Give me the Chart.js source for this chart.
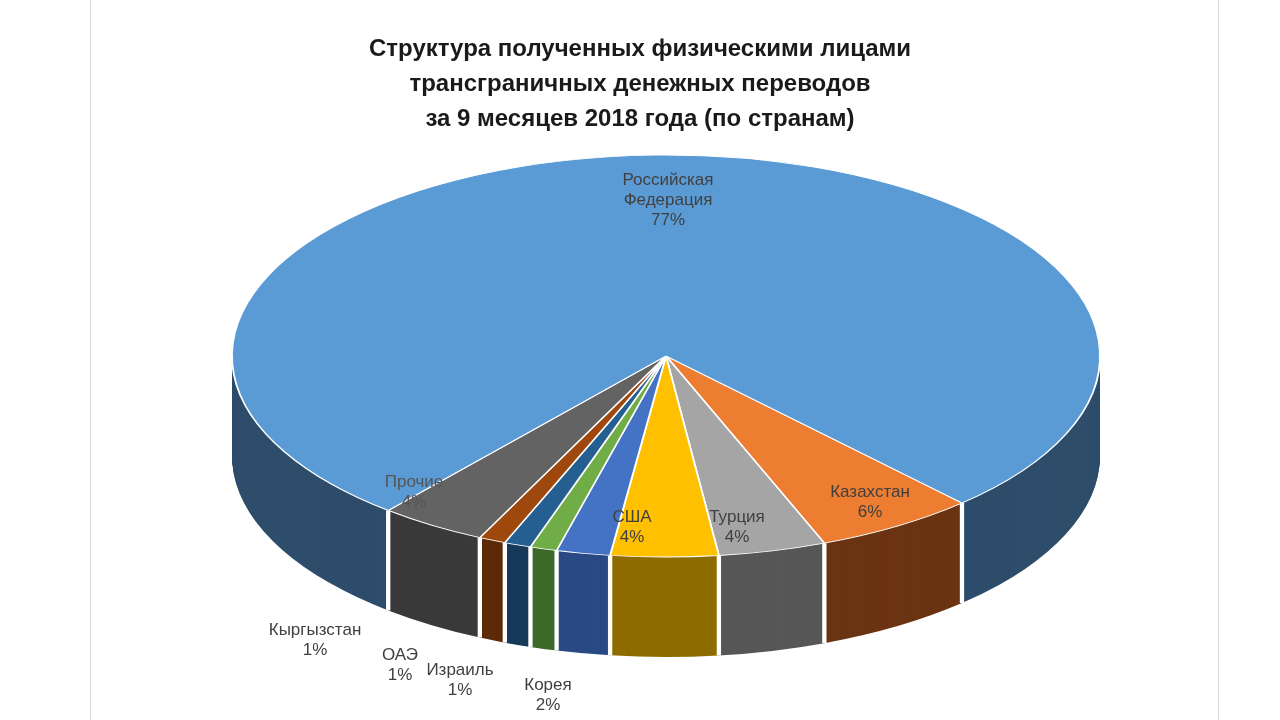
<!DOCTYPE html>
<html>
<head>
<meta charset="utf-8">
<script src="https://cdn.jsdelivr.net/npm/chart.js@4/dist/chart.umd.min.js"></script>
<style>
  body { margin: 0; background: #fff; }
  #wrap { position: relative; width: 1280px; height: 720px; }
  .edge { position: absolute; top: 0; width: 1px; height: 720px; background: #d9d9d9; }
</style>
</head>
<body>
<div id="wrap">
  <div class="edge" style="left:90px"></div>
  <div class="edge" style="left:1218px"></div>
  <canvas id="pie" width="1280" height="720"></canvas>
</div>
<script>
// data, clockwise starting from Kazakhstan
const countries = ['Казахстан', 'Турция', 'США', 'Корея', 'Израиль', 'ОАЭ', 'Кыргызстан', 'Прочие', 'Российская Федерация'];
const shares = [6, 4, 4, 2, 1, 1, 1, 4, 77];
const topColors = ['#ED7D31', '#A5A5A5', '#FFC000', '#4472C4', '#70AD47', '#255E91', '#9E480E', '#636363', '#5B9BD5'];
const sideColors = ['#6B3412', '#575757', '#8E6C00', '#2A4A84', '#3D6A28', '#173A5A', '#5E2A08', '#3A3A3A', '#2E4D6B'];

// where the labels go (final picture coords) and their line breaks
const labelLines = [['Казахстан', '6%'], ['Турция', '4%'], ['США', '4%'], ['Корея', '2%'], ['Израиль', '1%'],
                    ['ОАЭ', '1%'], ['Кыргызстан', '1%'], ['Прочие', '4%'], ['Российская', 'Федерация', '77%']];
const labelPos = [[870, 502], [737, 527], [632, 527], [548, 695], [460, 680], [400, 665], [315, 640], [414, 492], [668, 200]];

// ellipse geometry of the tilted pie
const CX = 666, CY = 356, RX = 434, RY = 201, DEPTH = 100;

function applyTilt(ctx, el) {
    const r = el.outerRadius;
    ctx.translate(CX, CY);
    ctx.scale(RX / r, RY / r);
    ctx.translate(-el.x, -el.y);
}

const tiltPlugin = {
    id: 'tilt',
    beforeDatasetsDraw(chart) {
        const ctx = chart.ctx;
        const arcs = chart.getDatasetMeta(0).data;
        const el0 = arcs[0];
        const sy = RY / el0.outerRadius;
        ctx.save();
        applyTilt(ctx, el0);
        // side walls
        for (let k = DEPTH; k >= 1; k--) {
            arcs.forEach((el, i) => {
                ctx.beginPath();
                ctx.moveTo(el.x, el.y + k / sy);
                ctx.arc(el.x, el.y + k / sy, el.outerRadius, el.startAngle, el.endAngle);
                ctx.closePath();
                ctx.fillStyle = sideColors[i];
                ctx.fill();
            });
        }
        // white seams on the front face
        ctx.strokeStyle = '#fff';
        ctx.lineWidth = 2 / sy;
        arcs.forEach(el => {
            const x = el.x + el.outerRadius * Math.cos(el.startAngle);
            const y = el.y + el.outerRadius * Math.sin(el.startAngle);
            if (Math.sin(el.startAngle) > -0.1) {
                ctx.beginPath();
                ctx.moveTo(x, y);
                ctx.lineTo(x, y + DEPTH / sy);
                ctx.stroke();
            }
        });
    },
    afterDatasetsDraw(chart) {
        chart.ctx.restore();
    },
    afterDraw(chart) {
        const ctx = chart.ctx;
        ctx.save();
        ctx.font = '17px "Liberation Sans", Arial, sans-serif';
        ctx.textAlign = 'center';
        ctx.textBaseline = 'middle';
        labelLines.forEach((lines, i) => {
            const [x, y] = labelPos[i];
            ctx.fillStyle = i === 7 ? '#555' : '#404040';
            const h = 20;
            lines.forEach((t, j) => ctx.fillText(t, x, y + (j - (lines.length - 1) / 2) * h));
        });
        ctx.restore();
    }
};

new Chart(document.getElementById('pie'), {
    type: 'pie',
    data: {
        labels: countries,
        datasets: [{
            data: shares,
            backgroundColor: topColors,
            borderColor: '#fff',
            borderWidth: 1,
            clip: false
        }]
    },
    options: {
        responsive: false,
        animation: false,
        rotation: 137,
        layout: { padding: { top: 10, bottom: 100 } },
        plugins: {
            legend: { display: false },
            tooltip: { enabled: false },
            title: {
                display: true,
                text: ['Структура полученных физическими лицами', 'трансграничных денежных переводов', 'за 9 месяцев 2018 года (по странам)'],
                font: { family: '"Liberation Sans", Arial, sans-serif', size: 24, weight: 'bold', lineHeight: 1.45 },
                color: '#1a1a1a',
                padding: { top: 22, bottom: 10 }
            }
        }
    },
    plugins: [tiltPlugin]
});
</script>
</body>
</html>
